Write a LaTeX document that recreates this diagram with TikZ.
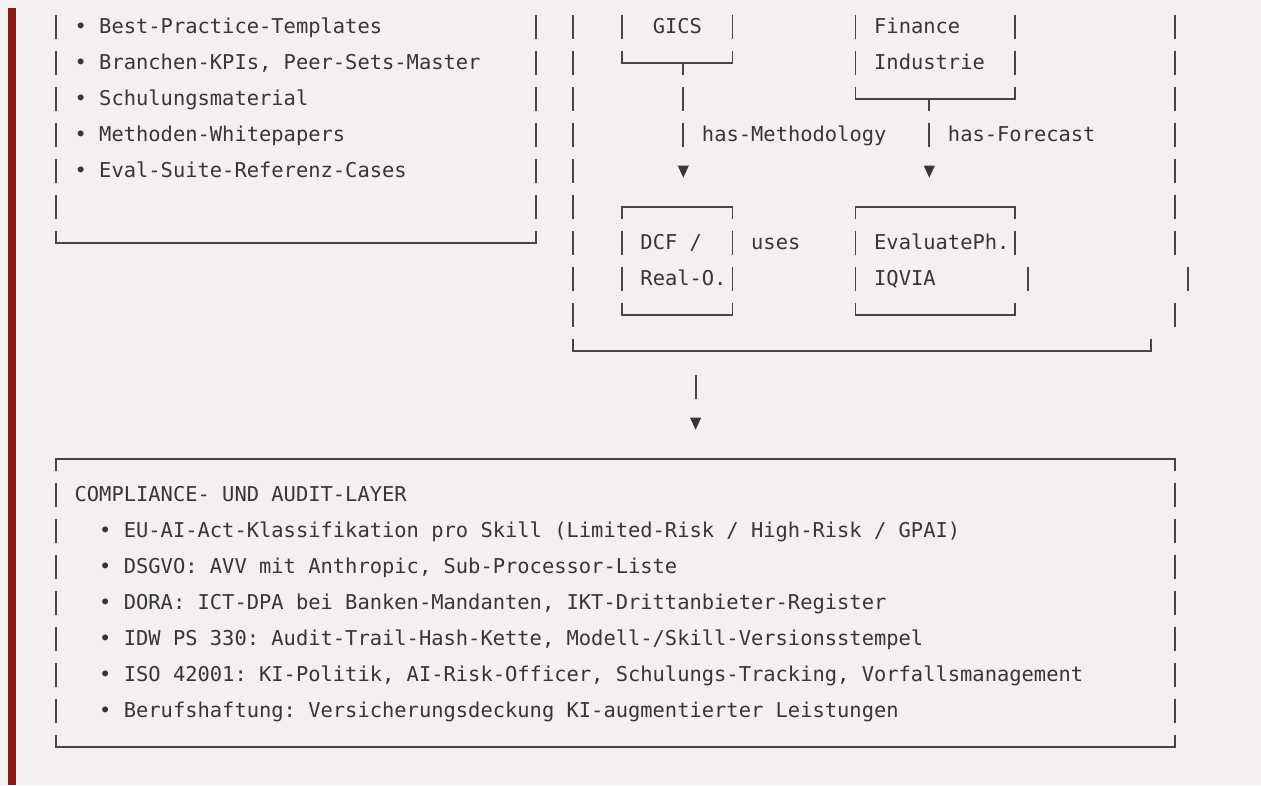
\documentclass[tikz,border=0pt]{standalone}
\usepackage{fontspec}
\newfontfamily\codefont{DejaVu Sans Mono}
\usepackage{xcolor}
\definecolor{codebg}{HTML}{F3F0EF}
\definecolor{codebar}{HTML}{8C1B1B}
\definecolor{codetext}{HTML}{363636}
\definecolor{codeline}{HTML}{464646}
\tikzset{
	txt/.style={anchor=base west, inner sep=0pt, text=codetext,
			font=\codefont\fontsize{20.43pt}{36pt}\selectfont\frenchspacing},
	glyph/.style={draw=codeline, line width=1.9pt},
	tip/.style={fill=codetext}
}
% one cell of the grid: one column (x) and one row (y), rows run downward
\newcommand{\vbar}[2]{\draw[glyph] (#1,#2-.333) -- (#1,#2+.333);}
\newcommand{\boxbottom}[3]{\draw[glyph] (#1,#3-.333) -- (#1,#3) -- (#2,#3) -- (#2,#3-.333);}
\newcommand{\boxtop}[3]{\draw[glyph] (#1,#3+.333) -- (#1,#3) -- (#2,#3) -- (#2,#3+.333);}
\newcommand{\downtip}[2]{\fill[tip] (#1-.45,#2-.139) -- (#1+.45,#2-.139) -- (#1,#2+.194) -- cycle;}

\begin{document}
\begin{tikzpicture}[x=12.3pt, y=-36pt]
		% Background and side bar
		\fill[codebg] (-4.5528,-0.7417) rectangle (97.9675,21.0639);
		\useasboundingbox (-4.5528,-0.7417) rectangle (97.9675,21.0639);
		\fill[codebar] (-3.9024,-0.5194) rectangle (-3.2520,21.0639);

		% Left box
		\foreach \r in {0,...,5} {\vbar{0}{\r} \vbar{39}{\r}}
		\boxbottom{0}{39}{6}
		\foreach \t [count=\i] in {Best-Practice-Templates, {Branchen-KPIs, Peer-Sets-Master},
				Schulungsmaterial, Methoden-Whitepapers, Eval-Suite-Referenz-Cases}
			{\node[txt] (left\i) at (1.5,\i-1+.194) {• \t};}

		% Outer box on the right
		\foreach \r in {0,...,8} {\vbar{42}{\r}}
		\foreach \r/\c in {0/91,1/91,2/91,3/91,4/91,5/91,6/91,7/92,8/91} {\vbar{\c}{\r}}
		\boxbottom{42}{89}{9}

		% GICS and Finance boxes
		\vbar{46}{0} \vbar{55}{0}
		\boxbottom{46}{55}{1}
		\draw[glyph] (51,1) -- (51,1.333);
		\foreach \r in {0,1} {\vbar{65}{\r} \vbar{78}{\r}}
		\boxbottom{65}{78}{2}
		\draw[glyph] (71,2) -- (71,2.333);
		\node[txt] (gics) at (48.5,.194) {GICS};
		\node[txt] (finance) at (66.5,.194) {Finance};
		\node[txt] (industrie) at (66.5,1.194) {Industrie};

		% Relations
		\vbar{51}{2} \vbar{51}{3} \vbar{71}{3}
		\downtip{51}{4} \downtip{71}{4}
		\node[txt] (methodology) at (52.5,3.194) {has-Methodology};
		\node[txt] (forecast) at (72.5,3.194) {has-Forecast};

		% DCF and EvaluatePh. boxes
		\boxtop{46}{55}{5} \boxtop{65}{78}{5}
		\foreach \c in {46,55,65,78} {\vbar{\c}{6}}
		\foreach \c in {46,55,65,79} {\vbar{\c}{7}}
		\boxbottom{46}{55}{8} \boxbottom{65}{78}{8}
		\node[txt] (dcf) at (47.5,6.194) {DCF /};
		\node[txt] (uses) at (56.5,6.194) {uses};
		\node[txt] (evaluate) at (66.5,6.194) {EvaluatePh.};
		\node[txt] (realo) at (47.5,7.194) {Real-O.};
		\node[txt] (iqvia) at (66.5,7.194) {IQVIA};

		% Down to the compliance layer
		\vbar{52}{10}
		\downtip{52}{11}

		% Compliance box
		\boxtop{0}{91}{12}
		\foreach \r in {13,...,19} {\vbar{0}{\r} \vbar{91}{\r}}
		\boxbottom{0}{91}{20}
		\node[txt] (title) at (1.5,13.194) {COMPLIANCE- UND AUDIT-LAYER};
		\foreach \t [count=\i] in {EU-AI-Act-Klassifikation pro Skill (Limited-Risk / High-Risk / GPAI),
				{DSGVO: AVV mit Anthropic, Sub-Processor-Liste},
				{DORA: ICT-DPA bei Banken-Mandanten, IKT-Drittanbieter-Register},
				{IDW PS 330: Audit-Trail-Hash-Kette, Modell-/Skill-Versionsstempel},
				{ISO 42001: KI-Politik, AI-Risk-Officer, Schulungs-Tracking, Vorfallsmanagement},
				Berufshaftung: Versicherungsdeckung KI-augmentierter Leistungen}
			{\node[txt] (comp\i) at (3.5,13+\i+.194) {• \t};}
	\end{tikzpicture}
\end{document}
